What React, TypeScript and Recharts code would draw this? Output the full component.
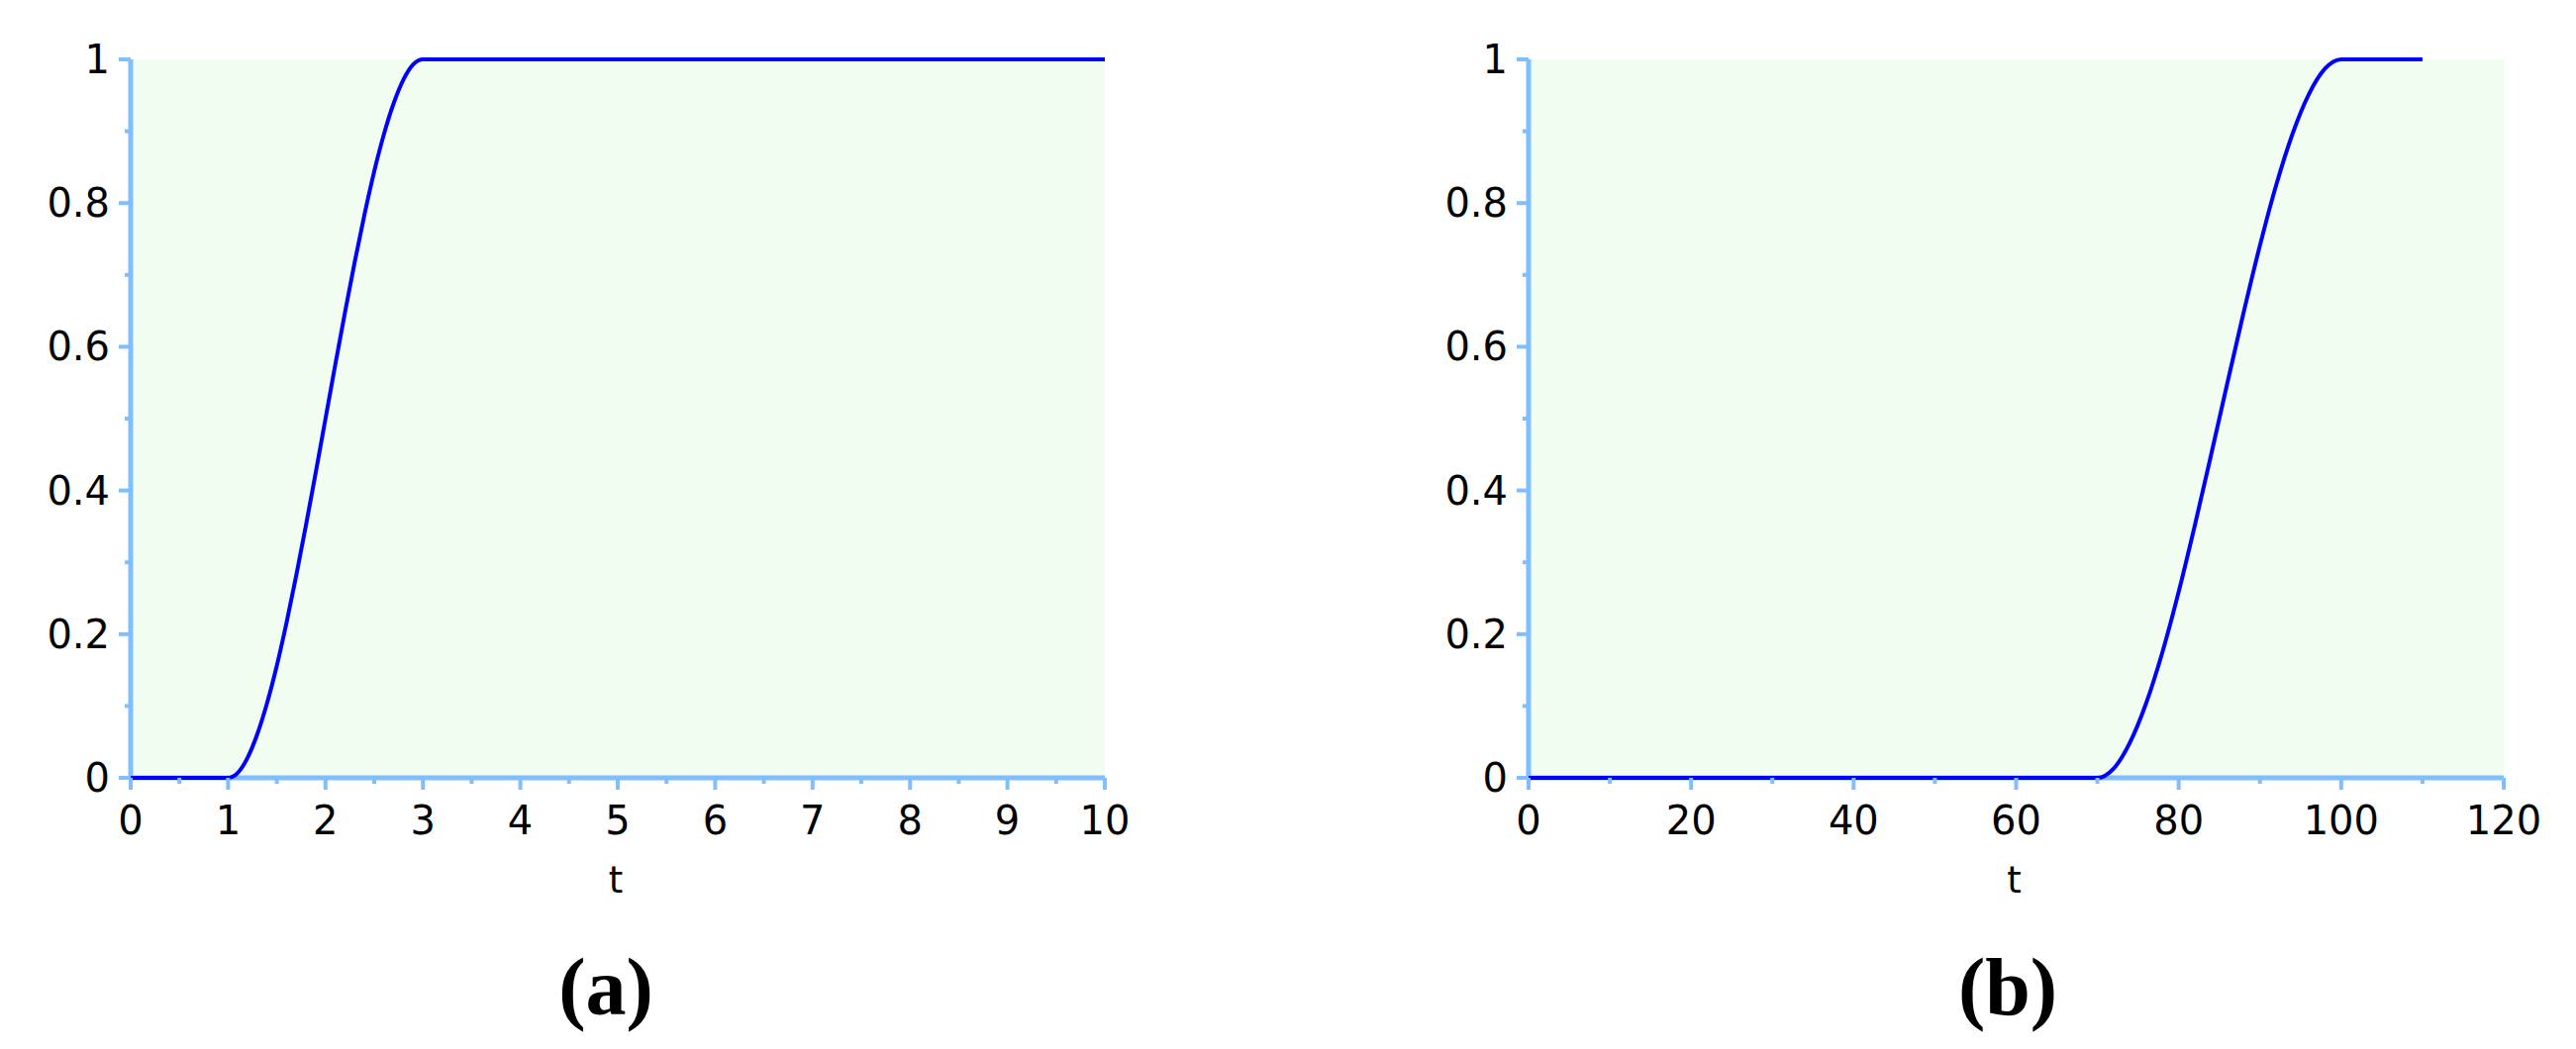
import React from 'react';
import { LineChart, Line, XAxis, YAxis, CartesianGrid } from 'recharts';

// ---- data ----
const tA = [0, 1, 1.1, 1.2, 1.3, 1.4, 1.5, 1.6, 1.7, 1.8, 1.9, 2.0, 2.1, 2.2, 2.3, 2.4, 2.5, 2.6, 2.7, 2.8, 2.9, 3, 10];
const yA = [0, 0, 0.007, 0.028, 0.061, 0.104, 0.156, 0.216, 0.282, 0.352, 0.425, 0.5, 0.575, 0.648, 0.718, 0.784, 0.844, 0.896, 0.939, 0.972, 0.993, 1, 1];

const tB = [0, 70, 72, 74, 76, 78, 80, 82, 84, 86, 88, 90, 92, 94, 96, 98, 100, 110];
const yB = [0, 0, 0.013, 0.049, 0.104, 0.175, 0.259, 0.352, 0.45, 0.55, 0.648, 0.741, 0.825, 0.896, 0.951, 0.987, 1, 1];

const xMajorA = [0, 1, 2, 3, 4, 5, 6, 7, 8, 9, 10];
const xMinorA = [0.5, 1.5, 2.5, 3.5, 4.5, 5.5, 6.5, 7.5, 8.5, 9.5];
const xMajorB = [0, 20, 40, 60, 80, 100, 120];
const xMinorB = [10, 30, 50, 70, 90, 110];
const yMajor = [0, 0.2, 0.4, 0.6, 0.8, 1];
const yMinor = [0.1, 0.3, 0.5, 0.7, 0.9];

const xLabel = 't';
const captions = ['(a)', '(b)'];

const dataA = tA.map((t, i) => ({ t, y: yA[i] }));
const dataB = tB.map((t, i) => ({ t, y: yB[i] }));

// ---- styles ----
const AXIS = '#80bfff';
const BG = '#f0fdf0';
const FONT = '"DejaVu Sans", Verdana, sans-serif';

function makeXTick(majors: number[]) {
  return (props: any) => {
    const { x, y, payload } = props;
    const v = payload.value;
    const major = majors.includes(v);
    return (
      <g>
        <line x1={x} x2={x} y1={y} y2={y + (major ? 12 : 6)} stroke={AXIS} strokeWidth={4} />
        {major && (
          <text x={x} y={y + 57} textAnchor="middle" fontFamily={FONT} fontSize={40} fill="#000">
            {String(v)}
          </text>
        )}
      </g>
    );
  };
}

const YTick = (props: any) => {
  const { x, y, payload } = props;
  const v = payload.value;
  const major = yMajor.includes(v);
  return (
    <g>
      <line x1={x - (major ? 12 : 6)} x2={x} y1={y} y2={y} stroke={AXIS} strokeWidth={4} />
      {major && (
        <text x={x - 21} y={y + 14} textAnchor="end" fontFamily={FONT} fontSize={40} fill="#000">
          {String(v)}
        </text>
      )}
    </g>
  );
};

function makeLabel(caption: string, captionX: number) {
  return (props: any) => {
    const vb = props.viewBox || {};
    const cx = (vb.x || 0) + (vb.width || 0) / 2;
    const top = vb.y || 0;
    return (
      <g>
        <text x={cx - 2} y={top + 116} textAnchor="middle" fontFamily={FONT} fontSize={37} fill="#000">
          {xLabel}
        </text>
        <text x={captionX} y={1025} textAnchor="middle" fontFamily='"Liberation Serif", "Times New Roman", serif' fontWeight="bold" fontSize={82} fill="#000">
          {caption}
        </text>
      </g>
    );
  };
}

type PanelProps = {
  data: { t: number; y: number }[];
  xDomain: [number, number];
  xMajor: number[];
  xMinor: number[];
  yAxisWidth: number;
  marginRight: number;
  caption: string;
  captionX: number;
};

function Panel({ data, xDomain, xMajor, xMinor, yAxisWidth, marginRight, caption, captionX }: PanelProps) {
  return (
    <LineChart width={1301} height={1060} data={data} margin={{ top: 60, right: marginRight, bottom: 0, left: 0 }}>
      <CartesianGrid horizontal={false} vertical={false} fill={BG} fillOpacity={1} stroke="none" />
      <XAxis
        type="number"
        dataKey="t"
        domain={xDomain}
        ticks={[...xMajor, ...xMinor]}
        interval={0}
        tickSize={0}
        tickMargin={0}
        tickLine={false}
        axisLine={{ stroke: AXIS, strokeWidth: 5 }}
        height={274}
        tick={makeXTick(xMajor)}
        label={makeLabel(caption, captionX)}
        allowDataOverflow
      />
      <XAxis
        xAxisId="top"
        orientation="top"
        type="number"
        dataKey="t"
        domain={xDomain}
        height={0}
        tick={false}
        tickLine={false}
        axisLine={{ stroke: AXIS, strokeWidth: 4 }}
      />
      <YAxis
        type="number"
        domain={[0, 1]}
        ticks={[...yMajor, ...yMinor]}
        interval={0}
        width={yAxisWidth}
        tickSize={0}
        tickMargin={0}
        tickLine={false}
        axisLine={{ stroke: AXIS, strokeWidth: 5 }}
        tick={YTick}
      />
      <YAxis
        yAxisId="right"
        orientation="right"
        type="number"
        domain={[0, 1]}
        width={0}
        tick={false}
        tickLine={false}
        axisLine={{ stroke: AXIS, strokeWidth: 4 }}
      />
      <Line
        type="monotone"
        dataKey="y"
        stroke="#0000ff"
        strokeWidth={4}
        dot={false}
        activeDot={false}
        isAnimationActive={false}
        {...({ zIndex: 1000 } as any)}
      />
    </LineChart>
  );
}

export default function App() {
  return (
    <div style={{ position: 'absolute', left: 0, top: 0, width: 2602, height: 1060, background: '#fff' }}>
      <div style={{ position: 'absolute', left: 0, top: 0 }}>
        <Panel
          data={dataA}
          xDomain={[0, 10]}
          xMajor={xMajorA}
          xMinor={xMinorA}
          yAxisWidth={132}
          marginRight={185}
          caption={captions[0]}
          captionX={612}
        />
      </div>
      <div style={{ position: 'absolute', left: 1301, top: 0 }}>
        <Panel
          data={dataB}
          xDomain={[0, 120]}
          xMajor={xMajorB}
          xMinor={xMinorB}
          yAxisWidth={243}
          marginRight={73}
          caption={captions[1]}
          captionX={727}
        />
      </div>
    </div>
  );
}
